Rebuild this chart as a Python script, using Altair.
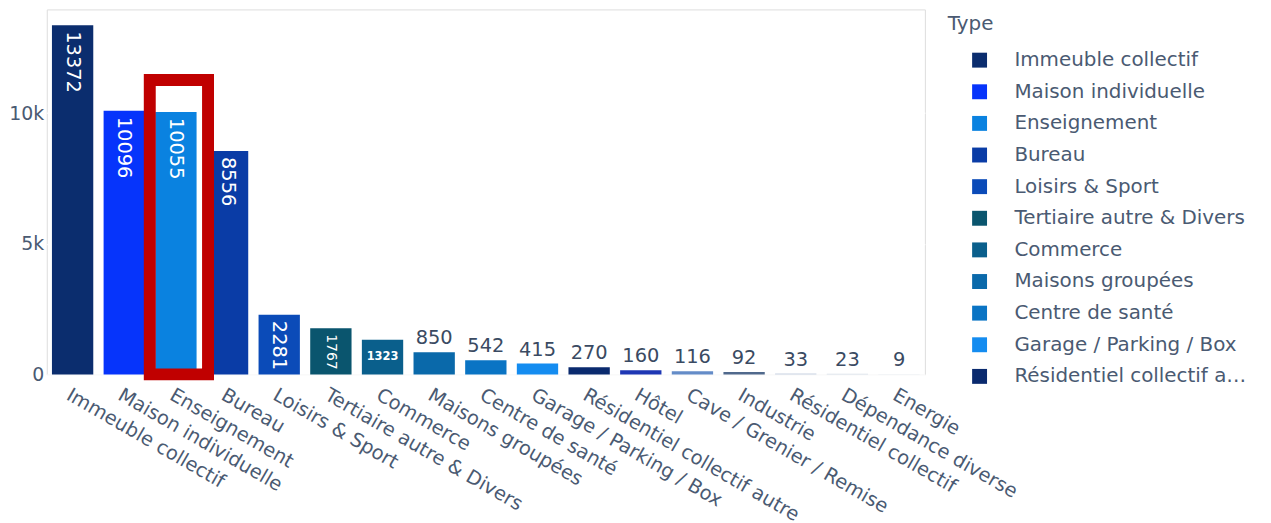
import altair as alt
import pandas as pd

categories = [
    "Immeuble collectif", "Maison individuelle", "Enseignement", "Bureau",
    "Loisirs & Sport", "Tertiaire autre & Divers", "Commerce", "Maisons groupées",
    "Centre de santé", "Garage / Parking / Box", "Résidentiel collectif autre",
    "Hôtel", "Cave / Grenier / Remise", "Industrie", "Résidentiel collectif",
    "Dépendance diverse", "Energie",
]
counts = [13372, 10096, 10055, 8556, 2281, 1767, 1323, 850, 542, 415, 270,
          160, 116, 92, 33, 23, 9]
colors = [
    "#0b2d6e", "#0634fb", "#0a82e0", "#0a3ca6", "#0b4bb8", "#0a556e",
    "#0a5f8c", "#0a69aa", "#0a74c4", "#148cf0", "#0a2a6e", "#1e37b4",
    "#648cc8", "#50698c", "#c8d2e2", "#d6dde8", "#dfe5ee",
]
legend_shown = categories[:11]
highlight_category = ["Enseignement"]
highlight_top = [11280]

df = pd.DataFrame({"Type": categories, "count": counts})
hl = pd.DataFrame({"Type": highlight_category, "top": highlight_top})

FONT = "DejaVu Sans"
LBL = "#4a5a72"

xenc = alt.X("Type:N", sort=categories,
             scale=alt.Scale(paddingInner=0.2, paddingOuter=0.1),
             axis=alt.Axis(title=None, labelAngle=30, labelAlign="left",
                           labelBaseline="top", labelFontSize=19.5,
                           labelColor=LBL, labelFont=FONT, ticks=False,
                           domain=False, labelPadding=11, labelLimit=400))
yscale = alt.Scale(domain=[0, 13980], nice=False)

bars = alt.Chart(df).mark_bar().encode(
    x=xenc,
    y=alt.Y("count:Q", scale=yscale,
            axis=alt.Axis(title=None, values=[0, 5000, 10000],
                          labelExpr="datum.value === 0 ? '0' : (datum.value / 1000) + 'k'",
                          labelFontSize=19, labelColor=LBL, labelFont=FONT,
                          ticks=False, domain=False, gridColor="white",
                          gridWidth=1.5, labelPadding=3)),
    color=alt.Color("Type:N", sort=categories,
                    scale=alt.Scale(domain=categories, range=colors),
                    legend=alt.Legend(title=None, values=legend_shown,
                                      orient="none", legendX=928, legendY=41,
                                      padding=0, symbolType="square",
                                      symbolSize=225, symbolStrokeWidth=0,
                                      symbolOpacity=1,
                                      labelFontSize=20, labelFont=FONT,
                                      labelColor=LBL, labelOffset=25,
                                      rowPadding=11.8, labelLimit=240)),
)

base = alt.Chart(df).encode(x=alt.X("Type:N", sort=categories),
                            y=alt.Y("count:Q", scale=yscale),
                            text="count:Q")

inside_big = base.transform_filter("datum.count >= 2000").mark_text(
    angle=90, align="left", baseline="middle", dx=6, fontSize=19.5,
    font=FONT, color="white")
inside_mid = base.transform_filter("datum.count >= 1500 && datum.count < 2000").mark_text(
    angle=90, align="left", baseline="middle", dx=6, fontSize=14,
    font=FONT, color="white")
inside_small = alt.Chart(df).transform_filter(
    "datum.count >= 1000 && datum.count < 1500").transform_calculate(
    mid="datum.count / 2").mark_text(
    align="center", baseline="middle", fontSize=11.5, fontWeight="bold",
    font=FONT, color="white").encode(
    x=alt.X("Type:N", sort=categories),
    y=alt.Y("mid:Q", scale=yscale), text="count:Q")
outside = base.transform_filter("datum.count < 1000").mark_text(
    align="center", baseline="bottom", dy=-4, fontSize=19.5, font=FONT,
    color="#3a4a62")

highlight = alt.Chart(hl).mark_bar(
    fillOpacity=0, stroke="#c00000", strokeWidth=12,
    width=alt.RelativeBandSize(1.41)).encode(
    x=alt.X("Type:N", sort=categories),
    xOffset=alt.value(3),
    y=alt.Y("top:Q", scale=yscale), y2=alt.datum(0))

legend_title = alt.Chart(hl).mark_text(
    text="Type", align="left", baseline="alphabetic", fontSize=20,
    font=FONT, color=LBL).encode(x=alt.value(906), y=alt.value(21))

chart = alt.layer(bars, inside_big, inside_mid, inside_small, outside,
                  highlight, legend_title).properties(
    width=883, height=367,
    autosize=alt.AutoSizeParams(type="none"),
    padding={"left": 39, "top": 0, "right": 340, "bottom": 150},
).configure_view(fill="#E5ECF6", stroke="#E5ECF6", strokeWidth=0,
                 strokeOpacity=0).configure(background="white")

chart.save("out.html", embed_options={"renderer": "svg", "actions": False})
